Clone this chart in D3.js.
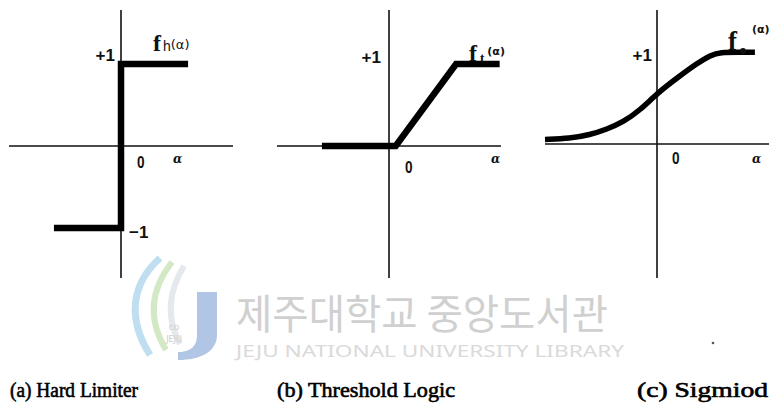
<!DOCTYPE html>
<html>
<head>
<meta charset="utf-8">
<script src="https://cdn.jsdelivr.net/npm/d3@7"></script>
<style>
  html, body { margin: 0; padding: 0; background: #fff; }
  svg { display: block; }
</style>
</head>
<body>
<svg id="fig" width="777" height="416"></svg>
<script>
// Activation functions: hard limiter, threshold logic, sigmoid
const alphaHard   = [-1, 0, 0, 1];
const fHard       = [-1, -1, 1, 1];

const alphaThresh = [-1, 0.1, 1, 1.65];
const fThresh     = [0, 0, 1, 1];

const alphaSig = [-1.67, -1.3, -1.0, -0.75, -0.5, -0.25, 0, 0.3, 0.6, 0.8, 0.95, 1.2, 1.46];
const fSig     = [0.05, 0.06, 0.10, 0.16, 0.24, 0.37, 0.55, 0.72, 0.88, 0.97, 1.0, 1.0, 1.0];

const captions = ["(a) Hard Limiter", "(b) Threshold Logic", "(c) Sigmiod"];
const yTickLabels = [["+1", "−1"], ["+1"], ["+1"]];

const svg = d3.select("#fig");

// layout for each panel
const panels = [
  { left: 9,   right: 233, top: 10, bottom: 278, yDom: [-1.61, 1.66],
    alpha: alphaHard, f: fHard, curve: d3.curveLinear, width: 6.5,
    capX: 10, capW: 128 },
  { left: 277, right: 501, top: 10, bottom: 278, yDom: [-1.61, 1.66],
    alpha: alphaThresh, f: fThresh, curve: d3.curveLinear, width: 6.5,
    capX: 277, capW: 178 },
  { left: 545, right: 769, top: 10, bottom: 278, yDom: [-1.46, 1.46],
    alpha: alphaSig, f: fSig, curve: d3.curveBasis, width: 5.5,
    capX: 637, capW: 131 }
];

const sans = "'Liberation Sans', Arial, sans-serif";
const serif = "'Liberation Serif', 'Times New Roman', serif";

panels.forEach((p, i) => {
  const x = d3.scaleLinear().domain([-1.67, 1.67]).range([p.left, p.right]);
  const y = d3.scaleLinear().domain(p.yDom).range([p.bottom, p.top]);
  const g = svg.append("g");

  // axes
  g.append("line")
    .attr("x1", x(-1.67)).attr("x2", x(1.67))
    .attr("y1", y(0)).attr("y2", y(0))
    .attr("stroke", "#111").attr("stroke-width", 1.6);
  g.append("line")
    .attr("x1", x(0)).attr("x2", x(0))
    .attr("y1", y(p.yDom[1])).attr("y2", y(p.yDom[0]))
    .attr("stroke", "#111").attr("stroke-width", 1.6);

  // function curve
  const pts = p.alpha.map((a, k) => [a, p.f[k]]);
  g.append("path")
    .attr("d", d3.line().x(d => x(d[0])).y(d => y(d[1])).curve(p.curve)(pts))
    .attr("fill", "none")
    .attr("stroke", "#000")
    .attr("stroke-width", p.width)
    .attr("stroke-linejoin", "miter")
    .attr("stroke-linecap", "butt");

  // tick labels
  const lab = (t, px, py, anchor) => g.append("text")
    .attr("x", px).attr("y", py)
    .attr("font-family", sans)
    .attr("font-weight", "bold")
    .attr("font-size", 17)
    .attr("text-anchor", anchor)
    .attr("fill", "#111")
    .text(t);

  const plusY = [y(1) - 3, y(1) - 1, y(1) + 9][i];
  const plusDX = [6, 8, 5][i];
  lab(yTickLabels[i][0], x(0) - plusDX, plusY, "end");
  if (yTickLabels[i][1]) lab(yTickLabels[i][1], x(0) + 8, y(-1) + 10, "start");

  const zeroDX = [16, 16, 15][i];
  const zeroDY = [22, 27, 20][i];
  g.append("text")
    .attr("x", x(0) + zeroDX).attr("y", y(0) + zeroDY)
    .attr("font-family", sans)
    .attr("font-weight", "bold").attr("font-size", 17)
    .attr("transform", `translate(${(x(0) + zeroDX) * 0.2},0) scale(0.8,1)`)
    .attr("fill", "#111").text("0");
  g.append("text")
    .attr("x", x(1.67) - [60, 10, 17][i]).attr("y", y(0) + [17, 17, 19][i])
    .attr("font-family", "'DejaVu Serif', serif")
    .attr("font-style", "italic").attr("font-weight", "bold")
    .attr("font-size", 12).attr("fill", "#111")
    .text("α");

  // function name label
  const fx = [153, 469, 728][i], fy = [51, 61, 50][i];
  const ft = g.append("text")
    .attr("x", fx).attr("y", fy)
    .attr("font-family", serif)
    .attr("font-weight", "bold").attr("fill", "#111");
  ft.append("tspan").attr("font-size", i === 2 ? 27 : 24).text("f");
  if (i === 0) {
    ft.append("tspan").attr("font-size", 14).attr("font-weight", "normal")
      .attr("font-family", sans).attr("dx", 2).text("h");
    ft.append("tspan").attr("font-size", 13).attr("font-family", "'DejaVu Sans', sans-serif")
      .attr("font-weight", "normal").attr("dy", -2).text("(α)");
  } else if (i === 1) {
    ft.append("tspan").attr("font-size", 13).attr("dx", 3).attr("dy", 1).text("t");
    ft.append("tspan").attr("font-size", 11).attr("font-family", "'DejaVu Sans', sans-serif")
      .attr("dx", 3).attr("dy", -7).text("(α)");
  } else {
    g.append("circle").attr("cx", fx + 15).attr("cy", fy + 1).attr("r", 3).attr("fill", "#111");
    g.append("text").attr("x", fx + 24).attr("y", fy - 17)
      .attr("font-family", "'DejaVu Sans', sans-serif").attr("font-weight", "bold")
      .attr("font-size", 11).attr("fill", "#111").text("(α)");
  }

  // caption
  svg.append("text")
    .attr("x", p.capX).attr("y", 397)
    .attr("font-family", serif)
    .attr("font-size", 21)
    .attr("fill", "#000")
    .attr("stroke", "#000").attr("stroke-width", 0.6)
    .attr("textLength", p.capW).attr("lengthAdjust", "spacingAndGlyphs")
    .text(captions[i]);
});

// library stamp
const stamp = svg.append("g").attr("opacity", 0.9);
stamp.append("path")
  .attr("d", "M160,258 C130,285 128,320 150,355")
  .attr("fill", "none").attr("stroke", "#b9dcef").attr("stroke-width", 7);
stamp.append("path")
  .attr("d", "M172,262 C150,290 148,320 166,350")
  .attr("fill", "none").attr("stroke", "#cfe6bf").attr("stroke-width", 6);
stamp.append("path")
  .attr("d", "M184,266 C168,292 166,318 180,344")
  .attr("fill", "none").attr("stroke", "#e3e6ea").attr("stroke-width", 6);
stamp.append("path")
  .attr("d", "M197,292 L217,292 L217,335 C217,352 200,360 178,360 L178,352 C192,352 197,345 197,335 Z")
  .attr("fill", "#a9c0e3");
stamp.append("text").attr("x", 174).attr("y", 330).attr("text-anchor", "middle")
  .attr("font-family", "'DejaVu Sans', sans-serif").attr("font-size", 7).attr("fill", "#c8c8c8").text("CO");
stamp.append("text").attr("x", 174).attr("y", 342).attr("text-anchor", "middle")
  .attr("font-family", "'DejaVu Sans', sans-serif").attr("font-size", 8).attr("fill", "#c8c8c8").text("JEJU");
stamp.append("text").attr("x", 236).attr("y", 329)
  .attr("font-family", "'Noto Sans CJK KR', sans-serif").attr("font-size", 41)
  .attr("fill", "#cbcbcb").attr("textLength", 372).attr("lengthAdjust", "spacingAndGlyphs")
  .text("제주대학교 중앙도서관");
stamp.append("text").attr("x", 236).attr("y", 357)
  .attr("font-family", "'Noto Sans', sans-serif").attr("font-size", 17)
  .attr("fill", "#d6d6d6").attr("textLength", 388).attr("lengthAdjust", "spacingAndGlyphs")
  .text("JEJU NATIONAL UNIVERSITY  LIBRARY");
svg.append("circle").attr("cx", 713).attr("cy", 343).attr("r", 1.3).attr("fill", "#555");
</script>
</body>
</html>
